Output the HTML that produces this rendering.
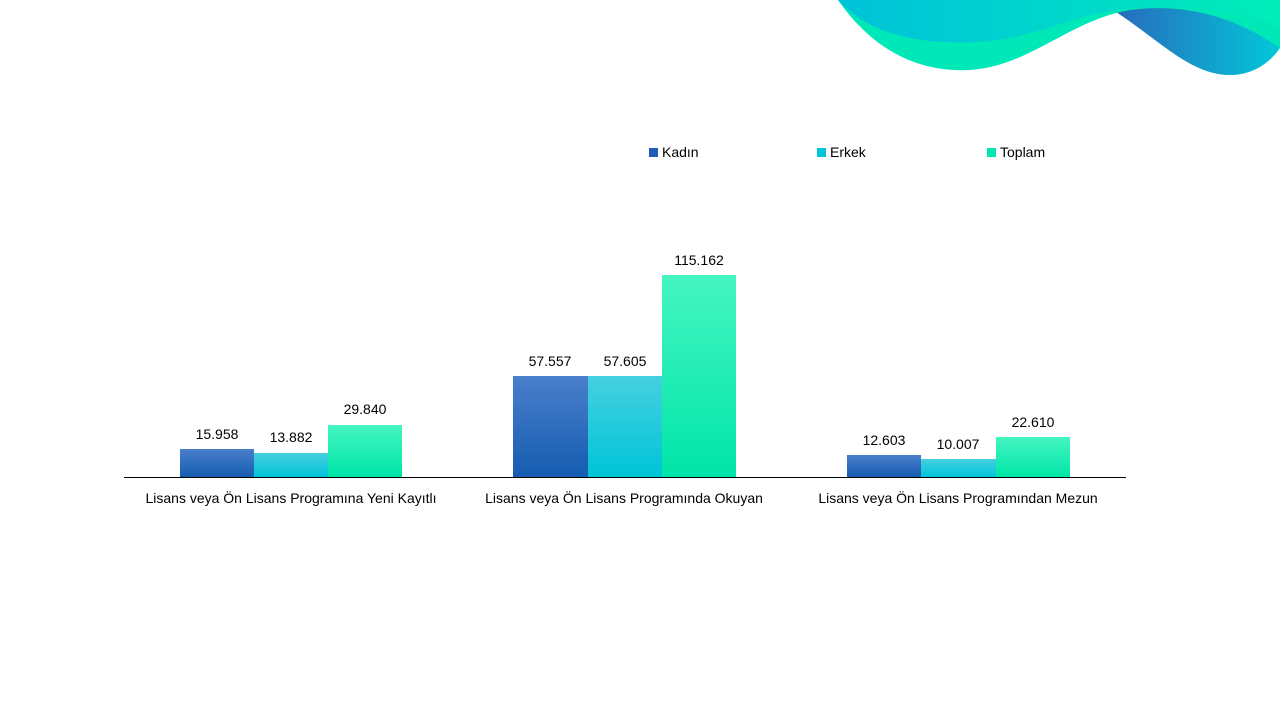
<!DOCTYPE html>
<html><head><meta charset="utf-8"><style>
body{margin:0;width:1280px;height:720px;background:#fff;overflow:hidden}
svg{display:block}
text{font-family:"Liberation Sans","DejaVu Sans",sans-serif;font-size:14px;fill:#000}
</style></head><body>
<svg width="1280" height="720" viewBox="0 0 1280 720">
<defs>
<linearGradient id="gk" x1="0" y1="0" x2="0" y2="1"><stop offset="0" stop-color="#4a7fcc"/><stop offset="1" stop-color="#155cb0"/></linearGradient>
<linearGradient id="ge" x1="0" y1="0" x2="0" y2="1"><stop offset="0" stop-color="#45d0e0"/><stop offset="1" stop-color="#00c4d8"/></linearGradient>
<linearGradient id="gt" x1="0" y1="0" x2="0" y2="1"><stop offset="0" stop-color="#45f5c0"/><stop offset="1" stop-color="#00e5a8"/></linearGradient>
<linearGradient id="w1" x1="0" y1="0" x2="1" y2="0"><stop offset="0" stop-color="#00c2d8"/><stop offset="0.5" stop-color="#00d6cc"/><stop offset="1" stop-color="#00eeb8"/></linearGradient>
<linearGradient id="w2" x1="0" y1="0" x2="1" y2="0"><stop offset="0" stop-color="#2a68bb"/><stop offset="1" stop-color="#00c8d8"/></linearGradient>
</defs>
<!-- waves -->
<path d="M1110,8 C1160,40 1190,75 1230,75 C1255,75 1272,60 1280,48 L1280,8 Z" fill="url(#w2)"/>
<path d="M838,0 C880,60 930,72 970,70 C1030,66 1070,20 1130,10 C1190,2 1240,20 1280,48 L1280,0 Z" fill="#00e8b8"/>
<path d="M838,0 C870,35 920,45 980,42 C1040,38 1080,10 1140,8 C1200,6 1250,10 1280,28 L1280,0 Z" fill="url(#w1)"/>
<!-- legend -->
<rect x="649" y="148" width="9" height="9" fill="#1f5fb8"/><text x="662" y="157">Kadın</text>
<rect x="817" y="148" width="9" height="9" fill="#00c4d8"/><text x="830" y="157">Erkek</text>
<rect x="987" y="148" width="9" height="9" fill="#00e8b0"/><text x="1000" y="157">Toplam</text>
<!-- bars -->
<rect x="180" y="449" width="74" height="28" fill="url(#gk)"/>
<rect x="254" y="453" width="74" height="24" fill="url(#ge)"/>
<rect x="328" y="425" width="74" height="52" fill="url(#gt)"/>
<rect x="513" y="376" width="75" height="101" fill="url(#gk)"/>
<rect x="588" y="376" width="74" height="101" fill="url(#ge)"/>
<rect x="662" y="275" width="74" height="202" fill="url(#gt)"/>
<rect x="847" y="455" width="74" height="22" fill="url(#gk)"/>
<rect x="921" y="459" width="75" height="18" fill="url(#ge)"/>
<rect x="996" y="437" width="74" height="40" fill="url(#gt)"/>
<line x1="124" y1="477.5" x2="1126" y2="477.5" stroke="#000" stroke-width="1"/>
<g text-anchor="middle">
<text x="217" y="439">15.958</text><text x="291" y="442">13.882</text><text x="365" y="414">29.840</text>
<text x="550" y="366">57.557</text><text x="625" y="366">57.605</text><text x="699" y="265">115.162</text>
<text x="884" y="445">12.603</text><text x="958" y="449">10.007</text><text x="1033" y="427">22.610</text>
<text x="291" y="503">Lisans veya Ön Lisans Programına Yeni Kayıtlı</text>
<text x="624" y="503">Lisans veya Ön Lisans Programında Okuyan</text>
<text x="958" y="503">Lisans veya Ön Lisans Programından Mezun</text>
</g>
</svg>
</body></html>
